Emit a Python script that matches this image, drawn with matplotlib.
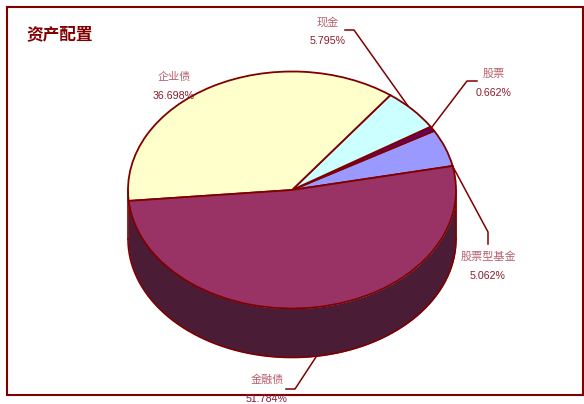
import numpy as np
import matplotlib
matplotlib.use("Agg")
import matplotlib.pyplot as plt
from matplotlib.patches import Rectangle

plt.rcParams['font.family'] = ['Liberation Sans', 'Noto Sans CJK SC', 'DejaVu Sans']

# datos, antihorario desde el borde derecho
nombres = ['股票型基金', '股票', '现金', '企业债', '金融债']
valores = [5.062, 0.662, 5.795, 36.698, 51.784]
colores = ['#9999FF', '#660066', '#CCFFFF', '#FFFFCC', '#993366']
color_lateral = '#4A1C36'
color_borde = '#800000'
color_nombre = '#B5616E'

W, H = 584, 404
CX, CY = 292, 190   # centro de la elipse en pixeles
RX, RY = 164, 118.5
ALTO = 49 / RY      # grosor del pastel

fig = plt.figure(figsize=(W / 100, H / 100), dpi=100)
ax = fig.add_axes([0, 0, 1, 1])

# paredes del pastel, solo la mitad de abajo
t = np.radians(np.linspace(180, 360, 300))
ax.fill_between(np.cos(t), np.sin(t), np.sin(t) - ALTO, color=color_lateral, lw=0, zorder=1)
ax.plot(np.cos(t), np.sin(t) - ALTO, color=color_borde, lw=1.2, zorder=2)
ax.plot([-1, -1], [0, -ALTO], color=color_borde, lw=1.2, zorder=2)
ax.plot([1, 1], [0, -ALTO], color=color_borde, lw=1.2, zorder=2)

ax.pie(valores, colors=colores, startangle=11.7, radius=1,
       wedgeprops={'edgecolor': color_borde, 'linewidth': 1.3, 'zorder': 3})

# la escala de los ejes aplasta el circulo en elipse
ax.set_aspect('auto')
ax.set_xlim((0 - CX) / RX, (W - CX) / RX)
ax.set_ylim((CY - H) / RY, CY / RY)
ax.axis('off')

# capa en pixeles para marco, textos y lineas guia
capa = fig.add_axes([0, 0, 1, 1], facecolor='none')
capa.set_xlim(0, W)
capa.set_ylim(H, 0)
capa.axis('off')

capa.add_patch(Rectangle((6.5, 7), 576.5, 388, fill=False, edgecolor=color_borde, lw=1.5))
capa.text(26, 34, '资产配置', color=color_borde, fontsize=12, fontweight='bold',
          family=['Noto Sans CJK SC'], va='center', ha='left')

guias = [
    [(345, 30), (354, 30), (408, 106)],
    [(477, 81), (467, 81), (432, 127)],
    [(452, 165), (488, 232), (488, 244)],
    [(286, 389), (295, 389), (316, 357)],
]
for g in guias:
    xs, ys = zip(*g)
    capa.plot(xs, ys, color=color_borde, lw=1.1, zorder=5)

# posicion de cada etiqueta, mismo orden que nombres
pos_etiquetas = [(488, 257), (494, 74), (328, 22), (174, 77), (267, 380)]
for nombre, valor, (x, y) in zip(nombres, valores, pos_etiquetas):
    capa.text(x, y, nombre, color=color_nombre, fontsize=8,
              family=['Noto Sans CJK SC'], ha='center', va='center', zorder=6)
    capa.text(x - 0.5, y + 19, f'{valor:.3f}%', color='#8A1C2C', fontsize=7.7,
              ha='center', va='center', zorder=6)

fig.savefig('out.png', dpi=100)
